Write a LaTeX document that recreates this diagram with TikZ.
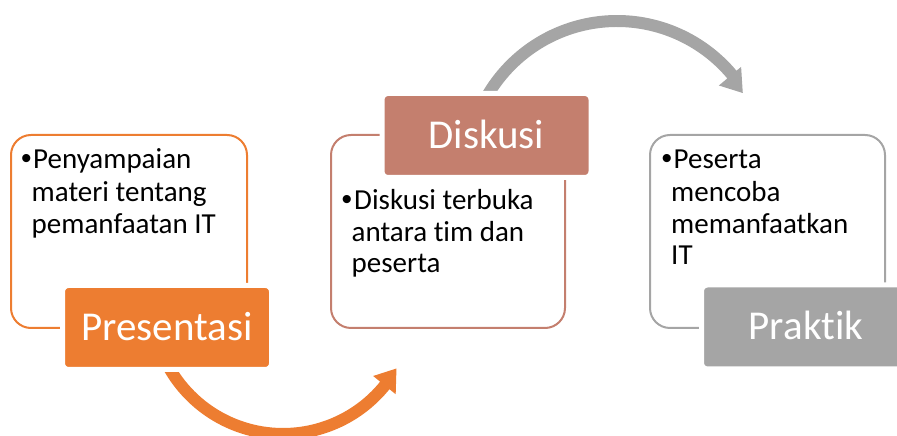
\documentclass[tikz,border=0pt]{standalone}
\usepackage{fontspec}
\setmainfont{Carlito}[Ligatures=NoCommon]
\newfontfamily\bulletfont{Liberation Sans}
\definecolor{accOrange}{HTML}{ED7D31}
\definecolor{accBrown}{HTML}{C47F6E}
\definecolor{accGray}{HTML}{A5A5A5}
\tikzset{
  panel/.style={draw=#1, line width=2pt, rounded corners=20pt},
  titlebox/.style={fill=#1, draw=white, line width=5pt, rounded corners=6pt,
    minimum width=209pt, minimum height=84pt, inner sep=0pt, text=white,
    font=\fontsize{41}{48}\selectfont, text height=26pt, text depth=0pt},
  bodytext/.style={anchor=base west, inner sep=0pt, font=\fontsize{29}{34}\selectfont},
  bulletmark/.style={anchor=base west, inner sep=0pt, font=\bulletfont\fontsize{30}{34}\selectfont},
  band/.style={fill=#1}
}
\begin{document}
\begin{tikzpicture}[x=1pt,y=1pt]
\useasboundingbox (0,0) rectangle (897,436);
\clip (0,0) rectangle (897,436);

% circular arrows
\coordinate (oc) at (283,133);
\coordinate (gc) at (617,265);
\fill[band=accOrange, shift={(oc)}] (209.3:137) arc[start angle=209.3, end angle=321, radius=137]
  -- (321:145) -- (330:131) -- (321:116) -- (321:125)
  arc[start angle=321, end angle=212.4, radius=125] -- cycle;
\fill[band=accGray, shift={(gc)}] (149.15:156) arc[start angle=149.15, end angle=40, radius=156]
  -- (40:162) -- (31.8:148) -- (40:133) -- (40:144)
  arc[start angle=40, end angle=146.25, radius=144] -- cycle;

% panels
\draw[panel=accOrange] (11,108) rectangle (247,301);
\draw[panel=accBrown] (331,108) rectangle (565,301);
\draw[panel=accGray] (650,108) rectangle (885,301);

% title boxes
\node[titlebox=accOrange] (presentasi) at (167,108.5) {Presentasi};
\node[titlebox=accBrown] (diskusi) at (486.5,300.5) {Diskusi};
\node[titlebox=accGray] (praktik) at (806,109) {Praktik};

% panel 1 text
\node[bulletmark] (b1) at (21,267.7) {•};
\node[bodytext] (t1a) at (33,267.7) {Penyampaian};
\node[bodytext] (t1b) at (31.5,234.3) {materi tentang};
\node[bodytext] (t1c) at (31.5,202.7) {pemanfaatan IT};

% panel 2 text
\node[bulletmark] (b2) at (341.5,226) {•};
\node[bodytext] (t2a) at (354,226) {Diskusi terbuka};
\node[bodytext] (t2b) at (351.5,194.5) {antara tim dan};
\node[bodytext] (t2c) at (351.5,163) {peserta};

% panel 3 text
\node[bulletmark] (b3) at (661.5,267.7) {•};
\node[bodytext] (t3a) at (673.5,267.7) {Peserta};
\node[bodytext] (t3b) at (671,234.3) {mencoba};
\node[bodytext] (t3c) at (671,202.7) {memanfaatkan};
\node[bodytext] (t3d) at (671,171) {IT};
\end{tikzpicture}
\end{document}
